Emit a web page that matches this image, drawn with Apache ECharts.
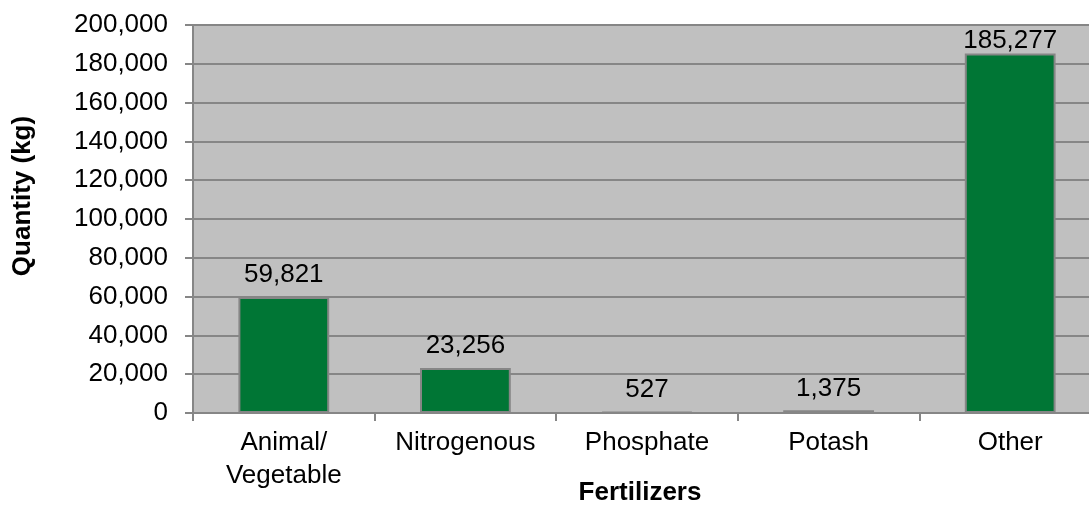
<!DOCTYPE html>
<html>
<head>
<meta charset="utf-8">
<script src="https://cdn.jsdelivr.net/npm/echarts@6/dist/echarts.min.js"></script>
<style>
  html, body { margin: 0; padding: 0; background: #fff; }
  #chart { width: 1089px; height: 508px; }
</style>
</head>
<body>
<div id="chart"></div>
<script>
  // fertilizer quantities
  var categories = ['Animal/\nVegetable', 'Nitrogenous', 'Phosphate', 'Potash', 'Other'];
  var quantities = [59821, 23256, 527, 1375, 185277];

  var font = '"Liberation Sans", Arial, sans-serif';
  var fmt = function (v) { return v.toLocaleString('en-US'); };

  // the tallest bar's label is pushed down to stay inside the plot
  var barData = quantities.map(function (v, i) {
    return i === quantities.length - 1 ? { value: v, label: { distance: 0 } } : v;
  });

  var chart = echarts.init(document.getElementById('chart'));
  chart.setOption({
    backgroundColor: '#fff',
    animation: false,
    grid: {
      left: 193,
      right: -12,   // plot runs past the right edge of the picture
      top: 25,
      bottom: 95,
      containLabel: false,
      outerBoundsMode: 'none',
      show: true,
      backgroundColor: '#c0c0c0',
      borderWidth: 0
    },
    xAxis: {
      type: 'category',
      data: categories,
      name: 'Fertilizers',
      nameLocation: 'middle',
      nameGap: 67,
      nameMoveOverlap: false,
      nameTextStyle: { fontFamily: font, fontSize: 26, fontWeight: 'bold', color: '#000', padding: [0, 14, 0, 0] },
      axisLine: { lineStyle: { color: '#868686', width: 2 } },
      axisTick: { show: true, length: 8, lineStyle: { color: '#868686', width: 2 } },
      axisLabel: { fontFamily: font, fontSize: 26, color: '#000', margin: 13, lineHeight: 33, interval: 0 }
    },
    yAxis: {
      type: 'value',
      min: 0,
      max: 200000,
      interval: 20000,
      name: 'Quantity (kg)',
      nameLocation: 'middle',
      nameGap: 157,
      nameMoveOverlap: false,
      nameRotate: 90,
      nameTextStyle: {
        fontFamily: font, fontSize: 26, fontWeight: 'bold', color: '#000',
        padding: [0, 0, 0, 46]
      },
      axisLine: { show: true, lineStyle: { color: '#868686', width: 2 } },
      axisTick: { show: true, length: 8, lineStyle: { color: '#868686', width: 2 } },
      splitLine: { lineStyle: { color: '#868686', width: 2 } },
      axisLabel: { fontFamily: font, fontSize: 26, color: '#000', margin: 25, formatter: fmt }
    },
    series: [{
      type: 'bar',
      data: barData,
      barCategoryGap: '50%',
      itemStyle: { color: '#007635', borderColor: '#868686', borderWidth: 2 },
      label: {
        show: true,
        position: 'top',
        distance: 9,
        fontFamily: font,
        fontSize: 26,
        color: '#000',
        formatter: function (p) { return fmt(p.value); }
      }
    }]
  });
</script>
</body>
</html>
